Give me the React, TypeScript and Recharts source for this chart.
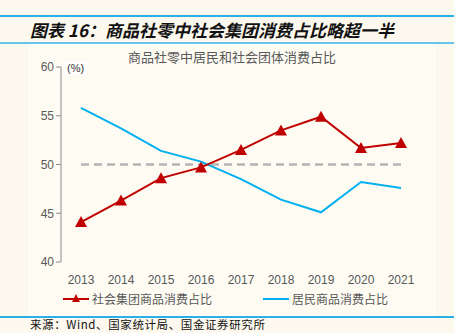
import { Legend, Line, LineChart, XAxis, YAxis } from 'recharts'

const years = [2013, 2014, 2015, 2016, 2017, 2018, 2019, 2020, 2021]
const groupShare = [44.1, 46.3, 48.6, 49.7, 51.5, 53.5, 54.9, 51.7, 52.2]
const residentShare = [55.8, 53.7, 51.4, 50.3, 48.5, 46.4, 45.1, 48.2, 47.6]
const halfLine = [50, 50, 50, 50, 50, 50, 50, 50, 50]
const yTicks = [40, 45, 50, 55, 60]
const bandEdges = [2012.5, 2013.5, 2014.5, 2015.5, 2016.5, 2017.5, 2018.5, 2019.5, 2020.5, 2021.5]

const data = years.map((year, i) => ({
  year,
  group: groupShare[i],
  resident: residentShare[i],
  half: halfLine[i],
}))

const RED = '#c00000'
const BLUE = '#00b0f0'
const CREAM = '#fdf9ef'
const CJK = '"Noto Sans CJK SC", "Liberation Sans", sans-serif'

function Triangle(props: any) {
  const { cx, cy } = props
  if (cx == null || cy == null) return null
  return <path d={`M${cx},${cy - 6} L${cx + 6},${cy + 5} L${cx - 6},${cy + 5} Z`} fill={RED} />
}

function LegendBox() {
  return (
    <div
      style={{
        display: 'flex',
        justifyContent: 'center',
        gap: 50,
        fontFamily: CJK,
        fontSize: 12,
        color: '#595959',
        marginTop: 4,
      }}
    >
      <div style={{ display: 'flex', alignItems: 'center' }}>
        <svg width={28} height={12}>
          <line x1={1} y1={6} x2={27} y2={6} stroke={RED} strokeWidth={2} />
          <path d='M14,1 L18,9 L10,9 Z' fill={RED} />
        </svg>
        <span style={{ marginLeft: 2 }}>社会集团商品消费占比</span>
      </div>
      <div style={{ display: 'flex', alignItems: 'center' }}>
        <svg width={28} height={12}>
          <line x1={1} y1={6} x2={27} y2={6} stroke={BLUE} strokeWidth={2} />
        </svg>
        <span style={{ marginLeft: 2 }}>居民商品消费占比</span>
      </div>
    </div>
  )
}

export default function App() {
  return (
    <div style={{ position: 'fixed', left: 0, top: 0, width: 454, height: 333, background: CREAM, overflow: 'hidden' }}>
      <div style={{ position: 'absolute', left: 0, top: 15, width: 454, height: 2, background: '#2bb0e6' }} />
      <div
        style={{
          position: 'absolute',
          left: 30,
          top: 17,
          fontFamily: CJK,
          fontWeight: 'bold',
          fontStyle: 'italic',
          fontSize: 17,
          color: '#111',
          whiteSpace: 'nowrap',
        }}
      >
        图表 16：商品社零中社会集团消费占比略超一半
      </div>
      <div style={{ position: 'absolute', left: 0, top: 42, width: 454, height: 1.5, background: '#69c4ec' }} />
      <div
        style={{
          position: 'absolute',
          left: 29,
          top: 44,
          width: 406,
          height: 272,
          background: '#fefbf3',
          boxShadow: 'inset 0 0 0 1px #ffffff',
        }}
      >
        <div style={{ textAlign: 'center', fontFamily: CJK, fontSize: 13, color: '#595959', marginTop: 3 }}>
          商品社零中居民和社会团体消费占比
        </div>
        <div
          style={{
            position: 'absolute',
            left: 35,
            top: 18,
            background: '#ffffff',
            padding: '0 3px',
            fontFamily: '"Liberation Sans", sans-serif',
            fontSize: 11,
            color: '#333',
          }}
        >
          (%)
        </div>
        <div style={{ position: 'absolute', left: 0, top: 0 }}>
          <LineChart width={406} height={268} data={data} margin={{ top: 23, right: 14, left: 0, bottom: 0 }}>
            <XAxis
              dataKey='year'
              type='number'
              domain={[2012.5, 2021.5]}
              ticks={years}
              tickLine={false}
              axisLine={false}
              tick={{ fill: '#595959', fontSize: 12, fontFamily: '"Liberation Sans", sans-serif' }}
              tickMargin={7}
              height={24}
            />
            <XAxis
              xAxisId='edges'
              type='number'
              domain={[2012.5, 2021.5]}
              ticks={bandEdges}
              tickFormatter={() => ''}
              stroke='#8c8c8c'
              tickSize={5}
              height={0}
            />
            <YAxis
              type='number'
              domain={[40, 60]}
              ticks={yTicks}
              width={32}
              stroke='#8c8c8c'
              tickSize={5}
              tick={{ fill: '#595959', fontSize: 12, fontFamily: '"Liberation Sans", sans-serif' }}
            />
            <Line
              dataKey='half'
              stroke='#b4b4b4'
              strokeWidth={2.5}
              strokeDasharray='8 5'
              dot={false}
              isAnimationActive={false}
              legendType='none'
            />
            <Line
              dataKey='resident'
              stroke={BLUE}
              strokeWidth={2}
              dot={false}
              isAnimationActive={false}
            />
            <Line
              dataKey='group'
              stroke={RED}
              strokeWidth={2}
              dot={<Triangle />}
              isAnimationActive={false}
            />
            <Legend verticalAlign='bottom' height={26} content={() => <LegendBox />} />
          </LineChart>
        </div>
      </div>
      <div style={{ position: 'absolute', left: 0, top: 316, width: 454, height: 2, background: '#2bb0e6' }} />
      <div
        style={{
          position: 'absolute',
          left: 30,
          top: 317,
          fontFamily: CJK,
          fontSize: 11.5,
          lineHeight: '14px',
          letterSpacing: 0.6,
          color: '#111',
          whiteSpace: 'nowrap',
        }}
      >
        来源：Wind、国家统计局、国金证券研究所
      </div>
    </div>
  )
}
